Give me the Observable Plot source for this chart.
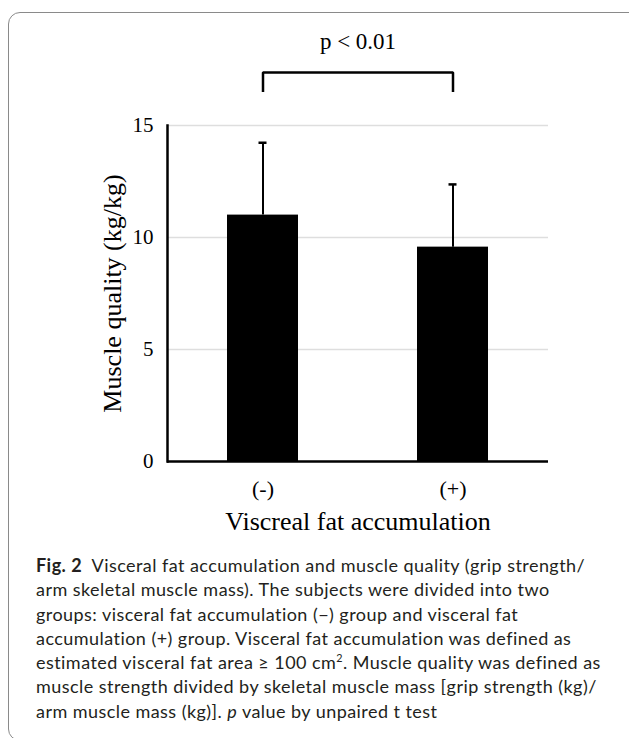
<!DOCTYPE html>
<html>
<head>
<meta charset="utf-8">
<script src="https://cdn.jsdelivr.net/npm/d3@7"></script>
<script src="https://cdn.jsdelivr.net/npm/@observablehq/plot@0.6"></script>
<style>
  html, body { margin: 0; padding: 0; background: #fff; }
  body { width: 629px; height: 738px; position: relative; overflow: hidden; }
  #frame {
    position: absolute; left: 8px; top: 12px; width: 720px; height: 729px;
    border: 1.5px solid #8a8a8a; border-radius: 12px; box-sizing: border-box;
  }
  #chart { position: absolute; left: 0; top: 0; }
  #caption {
    position: absolute; left: 36px; top: 553px;
    font-family: Lato, "Noto Sans", sans-serif; font-size: 18px; line-height: 24.3px;
    letter-spacing: 0.45px; color: #231f20; white-space: nowrap;
  }
  #caption b { font-weight: 700; }
</style>
</head>
<body>
<div id="frame"></div>
<div id="chart"></div>
<div id="caption">
  <div><b>Fig. 2</b>&nbsp; Visceral fat accumulation and muscle quality (grip strength/</div>
  <div>arm skeletal muscle mass). The subjects were divided into two</div>
  <div>groups: visceral fat accumulation (−) group and visceral fat</div>
  <div>accumulation (+) group. Visceral fat accumulation was defined as</div>
  <div>estimated visceral fat area ≥ 100 cm<sup style="font-size:0.6em;line-height:0">2</sup>. Muscle quality was defined as</div>
  <div>muscle strength divided by skeletal muscle mass [grip strength (kg)/</div>
  <div>arm muscle mass (kg)]. <i>p</i> value by unpaired t test</div>
</div>
<script>
// ---- data ----
const groups = ["(-)", "(+)"];
const means = [11.0, 9.57];
const sds = [3.23, 2.8];
const yTicks = [0, 5, 10, 15];
const xTitle = "Viscreal fat accumulation";
const yTitle = "Muscle quality (kg/kg)";
const pLabel = "p < 0.01";

const data = groups.map((g, i) => ({group: g, mean: means[i], sd: sds[i]}));

// significance bracket (in data units)
const bracketLow = 16.55, bracketHigh = 17.37;
const bracket = [
  {group: groups[0], y: bracketLow},
  {group: groups[0], y: bracketHigh},
  {group: groups[1], y: bracketHigh},
  {group: groups[1], y: bracketLow}
];

const chart = Plot.plot({
  width: 629,
  height: 560,
  marginLeft: 167,
  marginRight: 81,
  marginTop: 125,
  marginBottom: 99,
  style: {fontFamily: "'Liberation Serif', 'Times New Roman', serif", color: "black", background: "transparent", overflow: "visible"},
  x: {domain: groups, paddingInner: 0.627, paddingOuter: 0.3135},
  y: {domain: [0, 15]},
  marks: [
    Plot.gridY(yTicks.filter(d => d > 0), {stroke: "#dedede", strokeOpacity: 1, strokeWidth: 1.5}),
    Plot.barY(data, {x: "group", y: "mean", fill: "black"}),
    Plot.ruleX(data, {x: "group", y1: "mean", y2: d => d.mean + d.sd, stroke: "black", strokeWidth: 2}),
    Plot.tickY(data, {x: "group", y: d => d.mean + d.sd, stroke: "black", strokeWidth: 2.5, insetLeft: 31.5, insetRight: 31.5}),
    Plot.frame({anchor: "left", stroke: "black", strokeWidth: 2.5}),
    Plot.ruleY([0], {stroke: "black", strokeWidth: 2.5}),
    Plot.axisY({ticks: yTicks, tickSize: 0, tickPadding: 14, fontSize: 21, label: null}),
    Plot.axisX({tickSize: 0, tickPadding: 19, fontSize: 22, label: null}),
    Plot.line(bracket, {x: "group", y: "y", stroke: "black", strokeWidth: 2.5, strokeLinejoin: "miter", strokeLinecap: "square"}),
    Plot.text([pLabel], {frameAnchor: "top", text: d => d, textAnchor: "middle", lineAnchor: "middle", dy: -84, fontSize: 23}),
    Plot.text([yTitle], {frameAnchor: "left", text: d => d, rotate: -90, textAnchor: "middle", lineAnchor: "middle", dx: -55, fontSize: 26}),
    Plot.text([xTitle], {frameAnchor: "bottom", text: d => d, textAnchor: "middle", lineAnchor: "middle", dy: 60, fontSize: 26})
  ]
});
document.getElementById("chart").appendChild(chart);
</script>
</body>
</html>
